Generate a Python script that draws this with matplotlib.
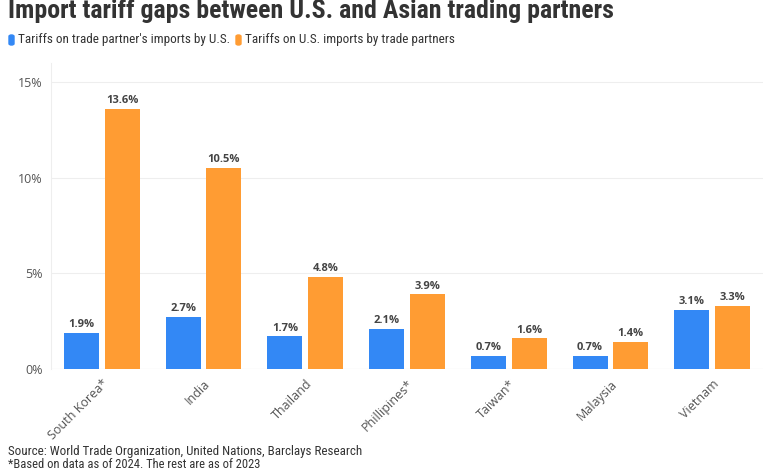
import matplotlib.pyplot as plt
import numpy as np
from matplotlib.patches import FancyBboxPatch

countries = ['South Korea*', 'India', 'Thailand', 'Phillipines*', 'Taiwan*', 'Malaysia', 'Vietnam']
us_tariffs = [1.9, 2.7, 1.7, 2.1, 0.7, 0.7, 3.1]
partner_tariffs = [13.6, 10.5, 4.8, 3.9, 1.6, 1.4, 3.3]
series_names = ["Tariffs on trade partner's imports by U.S.", 'Tariffs on U.S. imports by trade partners']
yticks = [0, 5, 10, 15]

blue = '#3388f5'
orange = '#ff9c33'
text_col = '#555555'
narrow = ['Roboto Condensed', 'Roboto', 'DejaVu Sans']

plt.rcParams['font.family'] = ['Open Sans', 'DejaVu Sans']

fig = plt.figure(figsize=(7.8, 4.7), dpi=100)
ax = fig.add_axes([51 / 780, 1 - 369 / 470, 712 / 780, 306 / 470])

x = np.arange(len(countries))
w = 0.345
b1 = ax.bar(x - 0.2, us_tariffs, w, color=blue, zorder=3)
b2 = ax.bar(x + 0.2, partner_tariffs, w, color=orange, zorder=3)

for bars, vals in ((b1, us_tariffs), (b2, partner_tariffs)):
    for b, v in zip(bars, vals):
        ax.text(b.get_x() + b.get_width() / 2, v + 0.15, f'{v:.1f}%', ha='center', va='bottom',
                fontsize=8, fontweight='bold', color='#444444')

ax.set_xlim(-0.5, len(countries) - 0.5)
ax.set_ylim(0, 16)
ax.set_yticks(yticks)
ax.set_yticklabels([f'{t}%' for t in yticks], fontsize=9, color=text_col)
ax.set_xticks(x)
ax.set_xticklabels(countries, rotation=45, ha='right', rotation_mode='anchor', fontsize=9, color=text_col)
ax.tick_params(axis='both', length=0, pad=6)
ax.grid(axis='y', color='#eeeeee', linewidth=0.8, zorder=0)
for s in ['top', 'right', 'bottom']:
    ax.spines[s].set_visible(False)
ax.spines['left'].set_color('#eeeeee')
ax.axhline(0, color='#dddddd', linewidth=0.8, zorder=2)

fig.text(8 / 780, 1 - 11 / 470, 'Import tariff gaps between U.S. and Asian trading partners',
         fontsize=18.6, fontweight='bold', color='#333333', va='center', family=narrow)

# legend
for px, col, label in ((9, blue, series_names[0]), (236, orange, series_names[1])):
    fig.patches.append(FancyBboxPatch((px / 780, 1 - 45 / 470), 5 / 780, 10 / 470,
                                      boxstyle='round,pad=0,rounding_size=0.003',
                                      transform=fig.transFigure, color=col))
    fig.text((px + 9) / 780, 1 - 40 / 470, label, fontsize=9.5, color='#333333', va='center',
             family=narrow)

fig.text(8 / 780, 1 - 452 / 470, 'Source: World Trade Organization, United Nations, Barclays Research',
         fontsize=9.4, color='#333333', va='center', family=narrow)
fig.text(8 / 780, 1 - 464 / 470, '*Based on data as of 2024. The rest are as of 2023',
         fontsize=9, color='#333333', va='center', family=narrow)

fig.savefig('out.png', dpi=100)
